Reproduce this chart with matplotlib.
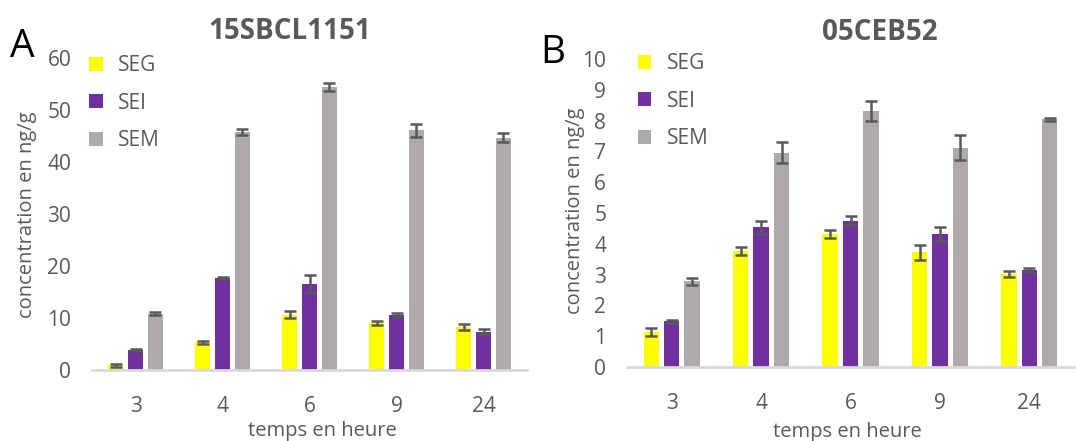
import matplotlib
matplotlib.use("Agg")
import matplotlib.pyplot as plt
import numpy as np

plt.rcParams['font.family'] = ['Open Sans', 'DejaVu Sans']

categories = ["3", "4", "6", "9", "24"]
series = ["SEG", "SEI", "SEM"]
colors = ["#FFFF00", "#7030A0", "#AEAAAA"]

# Panel A: 15SBCL1151
a_seg = [0.9, 5.3, 10.6, 9.1, 8.2]
a_seg_err = [0.3, 0.3, 0.65, 0.4, 0.6]
a_sei = [3.9, 17.7, 16.6, 10.6, 7.4]
a_sei_err = [0.2, 0.2, 1.7, 0.4, 0.4]
a_sem = [10.8, 45.8, 54.4, 46.1, 44.7]
a_sem_err = [0.3, 0.55, 0.8, 1.3, 0.9]

# Panel B: 05CEB52
b_seg = [1.14, 3.77, 4.32, 3.72, 3.02]
b_seg_err = [0.13, 0.14, 0.12, 0.24, 0.11]
b_sei = [1.49, 4.53, 4.75, 4.32, 3.15]
b_sei_err = [0.05, 0.22, 0.15, 0.23, 0.06]
b_sem = [2.78, 6.95, 8.32, 7.12, 8.04]
b_sem_err = [0.12, 0.34, 0.33, 0.41, 0.04]

fig = plt.figure(figsize=(10.79, 4.41), dpi=100)
txt = "#595959"

def panel(rect, title, letter, vals, errs, ymax, ystep, title_x, ylab_xy, xlab_xy, leg_anchor, letter_xy):
    ax = fig.add_axes(rect)
    x = np.arange(len(categories))
    w = 0.172
    off = 0.228
    for i, (v, e) in enumerate(zip(vals, errs)):
        ax.bar(x + (i - 1) * off, v, width=w, color=colors[i], label=series[i], zorder=2)
        ax.errorbar(x + (i - 1) * off, v, yerr=e, fmt='none', ecolor=txt,
                    elinewidth=1.8, capsize=4.5, capthick=1.8, zorder=3)
    ax.set_xlim(-0.5, len(categories) - 0.5)
    ax.set_ylim(0, ymax)
    ax.set_yticks(np.arange(0, ymax + 0.01, ystep))
    ax.set_xticks(x)
    ax.set_xticklabels(categories)
    for s in ['top', 'right', 'left']:
        ax.spines[s].set_visible(False)
    ax.spines['bottom'].set_color("#D9D9D9")
    ax.spines['bottom'].set_linewidth(2)
    ax.spines['bottom'].set_clip_on(False)
    ax.tick_params(axis='both', length=0, labelsize=15, labelcolor=txt)
    ax.tick_params(axis='y', pad=15)
    ax.tick_params(axis='x', pad=19)
    ax.set_title(title, fontsize=20, fontweight='bold', color=txt, x=title_x, y=1.035)
    ax.set_ylabel("concentration en ng/g", fontsize=14.5, color=txt)
    ax.yaxis.set_label_coords(*ylab_xy)
    ax.set_xlabel("temps en heure", fontsize=14.5, color=txt)
    ax.xaxis.set_label_coords(*xlab_xy)
    leg = ax.legend(loc='upper left', bbox_to_anchor=leg_anchor, frameon=False,
                    handlelength=0.65, handleheight=0.65, labelspacing=0.78,
                    handletextpad=0.75, fontsize=15, borderaxespad=0)
    for t in leg.get_texts():
        t.set_color(txt)
    fig.text(letter_xy[0], letter_xy[1], letter, fontsize=28, color='black', ha='center', va='center')
    return ax

panel([0.0853, 0.161, 0.4032, 0.7075], "15SBCL1151", "A",
      [a_seg, a_sei, a_sem], [a_seg_err, a_sei_err, a_sem_err], 60, 10,
      0.455, (-0.126, 0.497), (0.529, -0.165), (-0.026, 1.035), (22 / 1079, 1 - 47 / 441))
panel([0.5811, 0.1678, 0.4143, 0.6984], "05CEB52", "B",
      [b_seg, b_sei, b_sem], [b_seg_err, b_sei_err, b_sem_err], 10, 1,
      0.566, (-0.094, 0.506), (0.492, -0.178), (0.005, 1.045), (553 / 1079, 1 - 53 / 441))

fig.savefig("out.png", dpi=100)
